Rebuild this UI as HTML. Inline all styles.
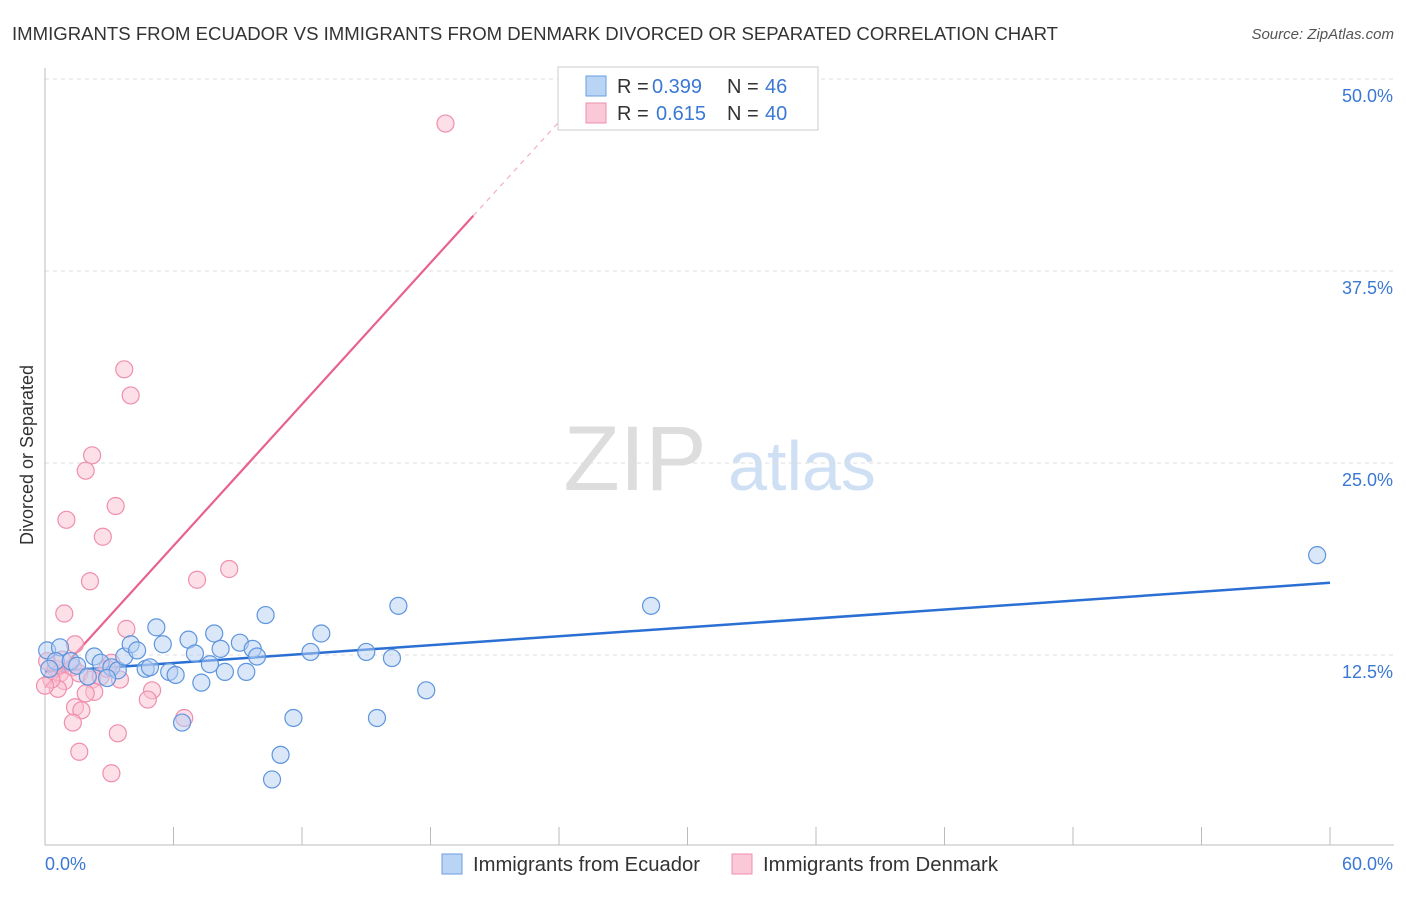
<!DOCTYPE html>
<html><head><meta charset="utf-8"><style>
body{margin:0;background:#fff;font-family:"Liberation Sans",sans-serif;}
svg text{font-family:"Liberation Sans",sans-serif;}
</style></head><body>
<svg width="1406" height="892">
<text x="12" y="40" font-size="18" fill="#333" textLength="1046" lengthAdjust="spacingAndGlyphs">IMMIGRANTS FROM ECUADOR VS IMMIGRANTS FROM DENMARK DIVORCED OR SEPARATED CORRELATION CHART</text>
<text x="1394" y="39" font-size="15" fill="#555" font-style="italic" text-anchor="end">Source: ZipAtlas.com</text>
<text x="33" y="455" font-size="18" fill="#333" transform="rotate(-90 33 455)" text-anchor="middle">Divorced or Separated</text>
<g><text x="635" y="490" font-size="92" fill="#ddd" font-family="Liberation Serif" text-anchor="middle">ZIP</text><text x="802" y="490" font-size="70" fill="#cfe0f4" text-anchor="middle">atlas</text></g>
<g id="grid"></g><g id="axes"></g><g id="lines"></g><g id="pts"></g>
<g>
<rect x="558" y="67" width="260" height="63" fill="#fff" stroke="#ccc"/>
<rect x="586" y="76" width="20" height="20" fill="#b9d4f5" stroke="#6a9ee0"/>
<rect x="586" y="103" width="20" height="20" fill="#fbc8d8" stroke="#ee8fae"/>
<text x="617" y="93" font-size="20" fill="#333">R =</text><text x="652" y="93" font-size="20" fill="#3a78d4">0.399</text>
<text x="727" y="93" font-size="20" fill="#333">N =</text><text x="765" y="93" font-size="20" fill="#3a78d4">46</text>
<text x="617" y="120" font-size="20" fill="#333">R =</text><text x="656" y="120" font-size="20" fill="#3a78d4">0.615</text>
<text x="727" y="120" font-size="20" fill="#333">N =</text><text x="765" y="120" font-size="20" fill="#3a78d4">40</text>
</g>
<g>
<rect x="442" y="854" width="20" height="20" fill="#b9d4f5" stroke="#6a9ee0"/>
<text x="473" y="871" font-size="20" fill="#333" textLength="227" lengthAdjust="spacingAndGlyphs">Immigrants from Ecuador</text>
<rect x="732" y="854" width="20" height="20" fill="#fbc8d8" stroke="#ee8fae"/>
<text x="763" y="871" font-size="20" fill="#333" textLength="235" lengthAdjust="spacingAndGlyphs">Immigrants from Denmark</text>
</g>
</svg>
<script>
const yTicks=[12.5,25,37.5,50];
const yTickLabels=["12.5%","25.0%","37.5%","50.0%"];
const xTickLabels=["0.0%","60.0%"];
const ecuadorX=[0.1,0.7,0.5,0.2,1.2,1.5,2.3,2.0,2.6,3.1,3.4,2.9,3.7,4.0,4.3,4.7,4.9,5.2,5.5,5.8,6.1,6.7,7.0,7.3,7.7,7.9,8.2,8.4,9.1,9.4,9.7,9.9,10.3,6.4,11.0,10.6,11.6,12.4,12.9,15.0,15.5,16.2,16.5,17.8,28.3,59.4];
const ecuadorY=[12.8,13.0,12.1,11.6,12.1,11.8,12.4,11.1,12.0,11.7,11.5,11.0,12.4,13.2,12.8,11.6,11.7,14.3,13.2,11.4,11.2,13.5,12.6,10.7,11.9,13.9,12.9,11.4,13.3,11.4,12.9,12.4,15.1,8.1,6.0,4.4,8.4,12.7,13.9,12.7,8.4,12.3,15.7,10.2,15.7,19.0];
const denmarkX=[18.7,3.7,4.0,2.2,1.9,3.3,1.0,2.7,8.6,7.1,2.1,0.9,3.8,1.4,3.1,0.1,0.5,0.7,0.9,0.6,1.3,1.6,2.2,2.6,2.9,5.0,4.8,6.5,1.4,1.7,1.3,2.3,3.4,1.6,3.1,0.3,0.0,0.8,1.9,3.5];
const denmarkY=[47.1,31.1,29.4,25.5,24.5,22.2,21.3,20.2,18.1,17.4,17.3,15.2,14.2,13.2,12.0,12.1,11.6,11.3,10.8,10.3,11.7,11.3,10.9,11.1,11.6,10.2,9.6,8.4,9.1,8.9,8.1,10.1,7.4,6.2,4.8,10.9,10.5,12.2,10.0,10.9];
const ecuadorTrend=[[0,11.4],[60,17.2]];
const denmarkTrend=[[0,10.4],[20,41.1]];
const denmarkTrendExt=[[20,41.1],[25.5,49.5]];
const NS="http://www.w3.org/2000/svg";
const X0=45,XS=1285/60,Y0=847,YS=15.36;
const sx=v=>X0+v*XS, sy=v=>Y0-v*YS;
function mk(t,a,p){const e=document.createElementNS(NS,t);for(const k in a)e.setAttribute(k,a[k]);document.getElementById(p).appendChild(e);return e;}
yTicks.forEach((t,i)=>{
 const g=mk('line',{x1:45,x2:1394,y1:sy(t),y2:sy(t),stroke:'#ddd','stroke-dasharray':'4,4'},'grid');
 
 
 const l=mk('text',{x:1393,y:sy(t)+23,'font-size':18,fill:'#3a78d4','text-anchor':'end'},'axes');
 l.textContent=yTickLabels[i];
 
 
});
const ya=mk('line',{x1:45,x2:45,y1:68,y2:845,stroke:'#bbb'},'axes');


const xa=mk('line',{x1:45,x2:1394,y1:845,y2:845,stroke:'#bbb'},'axes');


for(let i=0;i<=10;i++){const t=mk('line',{x1:sx(i*6),x2:sx(i*6),y1:827,y2:845,stroke:'#bbb'},'axes');
 
 }
[[xTickLabels[0],45,'start'],[xTickLabels[1],1393,'end']].forEach(([s,x,a])=>{const l=mk('text',{x:x,y:870,'font-size':18,fill:'#3a78d4','text-anchor':a},'axes');l.textContent=s;
 
 });
function pts(xs,ys,fill,stroke,name){xs.forEach((x,i)=>{const c=mk('circle',{cx:sx(x),cy:sy(ys[i]),r:8.5,fill:fill,'fill-opacity':0.5,stroke:stroke,'stroke-width':1.2},'pts');
 
 });}
pts(denmarkX,denmarkY,'#fbc0d2','#ee8fae','denmark-point');
pts(ecuadorX,ecuadorY,'#b5d0f3','#5e95dd','ecuador-point');
function ln(p,col,w,dash,name){const l=mk('line',{x1:sx(p[0][0]),y1:sy(p[0][1]),x2:sx(p[1][0]),y2:sy(p[1][1]),stroke:col,'stroke-width':w},'lines');if(dash)l.setAttribute('stroke-dasharray',dash);
 
 }
ln(ecuadorTrend,'#2a6fd4',2.5,null,'ecuador-trendline');
ln(denmarkTrend,'#e8628c',2.2,null,'denmark-trendline');
ln(denmarkTrendExt,'#f0b0c4',1.2,'5,5','denmark-trendline-extension');
</script>
</body></html>
